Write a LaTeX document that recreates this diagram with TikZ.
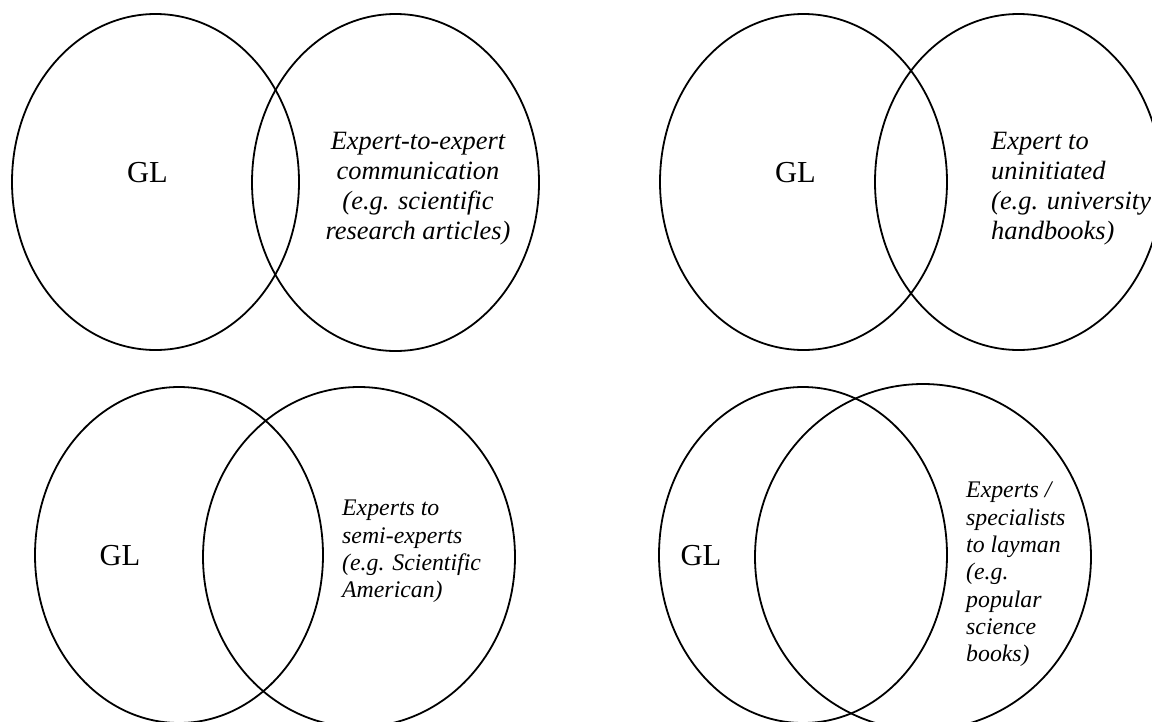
\documentclass[tikz,border=0pt]{standalone}
\usepackage{fontspec}
\setmainfont{Liberation Serif}
\usetikzlibrary{shapes.geometric}
\tikzset{
  set/.style={draw, ellipse, line width=1.8pt, inner sep=0pt},
  gl/.style={inner sep=0pt, font=\fontsize{30.5}{34}\selectfont},
  big/.style={inner sep=0pt, font=\fontsize{26.4}{30}\selectfont\itshape},
  small/.style={inner sep=0pt, font=\fontsize{23.8}{27.3}\selectfont\itshape}
}
\begin{document}
\begin{tikzpicture}[x=1pt,y=-1pt]
\useasboundingbox (0,0) rectangle (1152,721);
\begin{scope}
\clip (0,0) rectangle (1152,721);
% upper left pair
\node[set, minimum width=287pt, minimum height=336pt] (l1) at (155.5,182) {};
\node[set, minimum width=287pt, minimum height=337pt] (r1) at (395.5,182.5) {};
% upper right pair
\node[set, minimum width=287pt, minimum height=336pt] (l2) at (803.5,182) {};
\node[set, minimum width=287pt, minimum height=336pt] (r2) at (1018.5,182) {};
% lower left pair
\node[set, minimum width=288pt, minimum height=336pt] (l3) at (179,555) {};
\node[set, minimum width=312pt, minimum height=340pt] (r3) at (359,557) {};
% lower right pair
\node[set, minimum width=288pt, minimum height=336pt] (l4) at (803,555) {};
\node[set, minimum width=336pt, minimum height=346pt] (r4) at (923,557) {};
\end{scope}

\node[gl] (g1) at (147.5,173) {GL};
\node[gl] (g2) at (795.5,173) {GL};
\node[gl] (g3) at (120,556) {GL};
\node[gl] (g4) at (701,556) {GL};

\node[big, align=center, anchor=north] (t1) at (418,132)
  {Expert-to-expert\\communication\\(e.g. scientific\\research articles)};
\node[big, align=left, anchor=north west] (t2) at (991,132)
  {Expert to\\uninitiated\\(e.g. university\\handbooks)};
\node[small, align=left, anchor=north west] (t3) at (342,500)
  {Experts to\\semi-experts\\(e.g. Scientific\\American)};
\node[small, align=left, anchor=north west] (t4) at (966,482)
  {Experts /\\specialists\\to layman\\(e.g.\\popular\\science\\books)};
\end{tikzpicture}
\end{document}
